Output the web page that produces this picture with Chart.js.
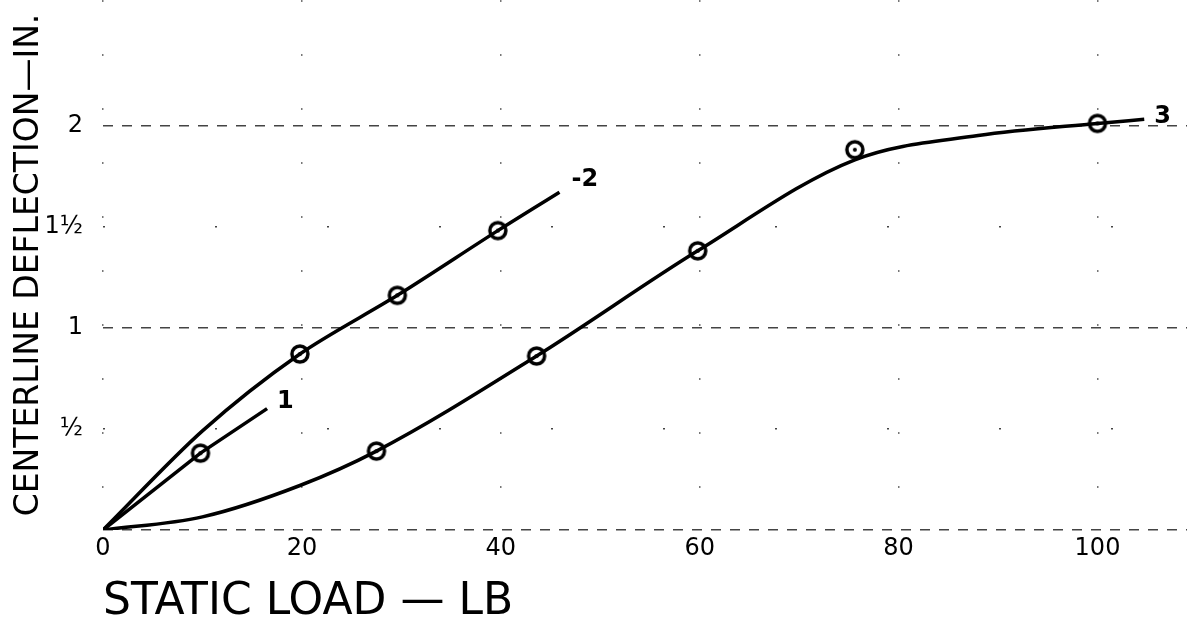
<!DOCTYPE html>
<html>
<head>
<meta charset="utf-8">
<script src="https://cdn.jsdelivr.net/npm/chart.js@4/dist/chart.umd.min.js"></script>
<style>
  html, body { margin: 0; padding: 0; background: #fff; overflow: hidden; }
  #wrap { width: 1187px; height: 623px; position: relative; }
</style>
</head>
<body>
<div id="wrap"><canvas id="deflectionChart"></canvas></div>
<script>
// values (load in lb, deflection in inches)
const curve1Load = [0, 9.8, 16.5];
const curve1Defl = [0, 0.38, 0.60];
const curve2Load = [0, 10, 19.8, 29.6, 39.7, 45.9];
const curve2Defl = [0, 0.49, 0.87, 1.16, 1.48, 1.67];
const curve3Load = [0, 10, 19.8, 27.5, 43.6, 59.8, 75.6, 88, 100, 104.7];
const curve3Defl = [0, 0.065, 0.22, 0.39, 0.86, 1.38, 1.83, 1.95, 2.01, 2.03];

// plotted test points (circled)
const points1Load = [9.8];
const points1Defl = [0.38];
const points2Load = [19.8, 29.6, 39.7];
const points2Defl = [0.87, 1.16, 1.48];
const points3Load = [27.5, 43.6, 59.8, 75.6, 100];
const points3Defl = [0.39, 0.86, 1.38, 1.88, 2.01];

const curveNames = ['1', '-2', '3'];

const xTicks = [0, 20, 40, 60, 80, 100];
const xTickLabels = ['0', '20', '40', '60', '80', '100'];
const yTicks = [0, 0.5, 1, 1.5, 2];
const yTickLabels = ['', '½', '1', '1½', '2'];

// where each curve number sits relative to the end of its line
const nameOffsets = [[10, -7], [12, -12], [10, -3]];

function pairs(xs, ys) {
    return xs.map((x, i) => ({x: x, y: ys[i]}));
}

// circle-with-dot marker
function makeMarker() {
    let c = document.createElement('canvas');
    c.width = 24;
    c.height = 24;
    let ctx = c.getContext('2d');
    ctx.beginPath();
    ctx.arc(12, 12, 8, 0, Math.PI * 2);
    ctx.fillStyle = '#fff';
    ctx.fill();
    ctx.lineWidth = 3.5;
    ctx.strokeStyle = '#000';
    ctx.stroke();
    ctx.beginPath();
    ctx.arc(12, 12, 2, 0, Math.PI * 2);
    ctx.fillStyle = '#000';
    ctx.fill();
    return c;
}
const marker = makeMarker();

function lineSet(xs, ys, tension, mode) {
    return {
        data: pairs(xs, ys),
        showLine: true,
        borderColor: '#000',
        borderWidth: 3.5,
        pointRadius: 0,
        tension: tension,
        cubicInterpolationMode: mode
    };
}

function pointSet(xs, ys) {
    return {
        data: pairs(xs, ys),
        showLine: false,
        pointStyle: marker,
        pointRadius: 9
    };
}

// writes the curve numbers at the end of each line
const curveLabels = {
    id: 'curveLabels',
    afterDatasetsDraw(chart) {
        let ctx = chart.ctx;
        ctx.save();
        ctx.font = 'bold 24px "DejaVu Sans"';
        ctx.fillStyle = '#000';
        ctx.textBaseline = 'middle';
        for (let i = 0; i < 3; i++) {
            let pts = chart.getDatasetMeta(i).data;
            let last = pts[pts.length - 1];
            ctx.fillText(curveNames[i], last.x + nameOffsets[i][0], last.y + nameOffsets[i][1]);
        }
        ctx.restore();
    }
};

new Chart(document.getElementById('deflectionChart'), {
    type: 'scatter',
    plugins: [curveLabels],
    data: {
        datasets: [
            lineSet(curve1Load, curve1Defl, 0, 'default'),
            lineSet(curve2Load, curve2Defl, 0.3, 'default'),
            lineSet(curve3Load, curve3Defl, 0.4, 'monotone'),
            pointSet(points1Load, points1Defl),
            pointSet(points2Load, points2Defl),
            pointSet(points3Load, points3Defl)
        ]
    },
    options: {
        responsive: true,
        maintainAspectRatio: false,
        animation: false,
        layout: {padding: 0, autoPadding: false},
        plugins: {
            legend: {display: false},
            tooltip: {enabled: false}
        },
        scales: {
            x: {
                type: 'linear',
                min: 0,
                max: 109,
                afterBuildTicks: (scale) => {
                    scale.ticks = xTicks.map(v => ({value: v}));
                },
                afterFit: (scale) => {
                    scale.height = 93;
                    scale.paddingLeft = 0;
                    scale.paddingRight = 0;
                },
                ticks: {
                    color: '#000',
                    padding: 4,
                    font: {family: 'DejaVu Sans', size: 24},
                    callback: (value) => xTickLabels[xTicks.indexOf(value)]
                },
                grid: {
                    drawTicks: false,
                    color: '#777',
                    lineWidth: 1.5
                },
                border: {display: false, dash: [2, 52]},
                title: {
                    display: true,
                    text: 'STATIC LOAD — LB',
                    align: 'start',
                    color: '#000',
                    padding: {top: 0, bottom: -6},
                    font: {family: 'DejaVu Sans', size: 44}
                }
            },
            y: {
                type: 'linear',
                min: 0,
                max: 2.62,
                afterBuildTicks: (scale) => {
                    scale.ticks = yTicks.map(v => ({value: v}));
                },
                afterFit: (scale) => {
                    scale.width = 103;
                    scale.paddingTop = 0;
                    scale.paddingBottom = 0;
                },
                ticks: {
                    color: '#000',
                    padding: 20,
                    font: {family: 'DejaVu Sans', size: 24},
                    callback: (value) => yTickLabels[yTicks.indexOf(value)]
                },
                grid: {
                    drawTicks: false,
                    color: '#444',
                    lineWidth: 1.5
                },
                border: {
                    display: false,
                    dash: (ctx) => (ctx.tick && ctx.tick.value % 1 === 0) ? [10, 9] : [2, 110]
                },
                title: {
                    display: true,
                    text: 'CENTERLINE DEFLECTION—IN.',
                    color: '#000',
                    padding: {top: 10, bottom: 2},
                    font: {family: 'DejaVu Sans', size: 33}
                }
            }
        }
    }
});
</script>
</body>
</html>
